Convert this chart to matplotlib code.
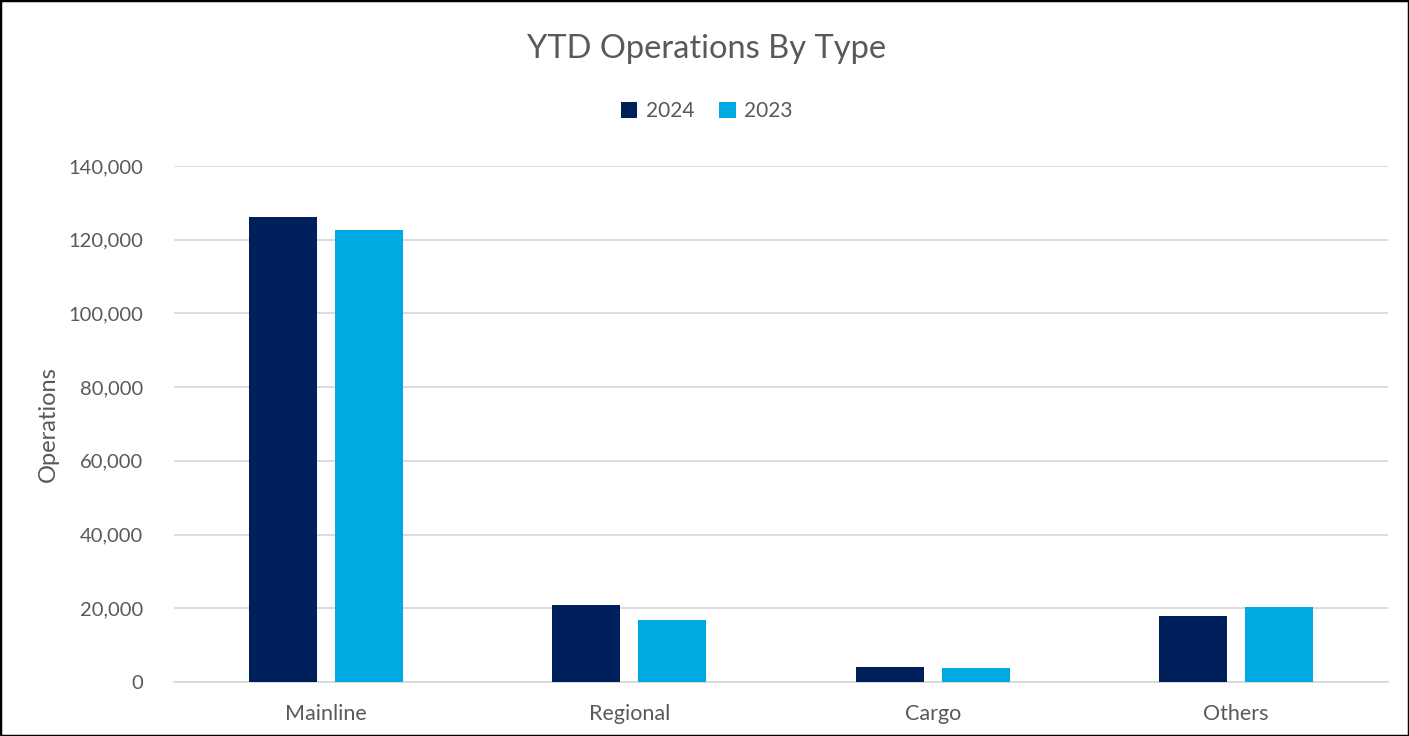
import matplotlib.pyplot as plt
import numpy as np
from matplotlib.ticker import FuncFormatter
from matplotlib.patches import Rectangle

categories = ["Mainline", "Regional", "Cargo", "Others"]
ops_2024 = [126200, 20900, 4100, 17850]
ops_2023 = [122500, 16850, 3800, 20450]

plt.rcParams['font.family'] = ['Lato', 'DejaVu Sans']
textColor = "#595959"

fig = plt.figure(figsize=(14.09, 7.36), dpi=100)
ax = fig.add_axes([0.1235, 0.0734, 0.8615, 0.7011])

x = np.arange(len(categories))
width = 0.224
ax.bar(x - 0.1417, ops_2024, width, color="#00205B", label="2024", zorder=3)
ax.bar(x + 0.1417, ops_2023, width, color="#00A9E0", label="2023", zorder=3)

ax.set_xlim(-0.5, len(categories) - 0.5)
ax.set_ylim(0, 140000)
ax.set_yticks(range(0, 140001, 20000))
ax.yaxis.set_major_formatter(FuncFormatter(lambda v, p: "{:,.0f}".format(v)))
ax.set_xticks(x)
ax.set_xticklabels(categories)
ax.tick_params(axis="both", length=0, colors=textColor)
ax.tick_params(axis="y", pad=22, labelsize=14.5)
ax.tick_params(axis="x", pad=16, labelsize=15.5)
ax.grid(axis="y", color="#D9D9D9", linewidth=1.3, zorder=0)
for s in ["top", "right", "left"]:
    ax.spines[s].set_visible(False)
ax.spines["bottom"].set_color("#D9D9D9")
ax.spines["bottom"].set_linewidth(1.3)

ax.set_ylabel("Operations", fontsize=17, color=textColor, labelpad=7)
fig.text(0.5016, 0.934, "YTD Operations By Type", ha="center", va="center", fontsize=23.5, color=textColor)
fig.legend(loc="center", bbox_to_anchor=(0.5016, 0.849), ncol=2, frameon=False,
           fontsize=15, labelcolor=textColor, handlelength=0.8, handleheight=0.8,
           handletextpad=0.4, columnspacing=1.2)

fig.patches.append(Rectangle((0, 0), 1, 1, transform=fig.transFigure, fill=False,
                             edgecolor="black", linewidth=2.5))

fig.savefig("out.png", dpi=100)
